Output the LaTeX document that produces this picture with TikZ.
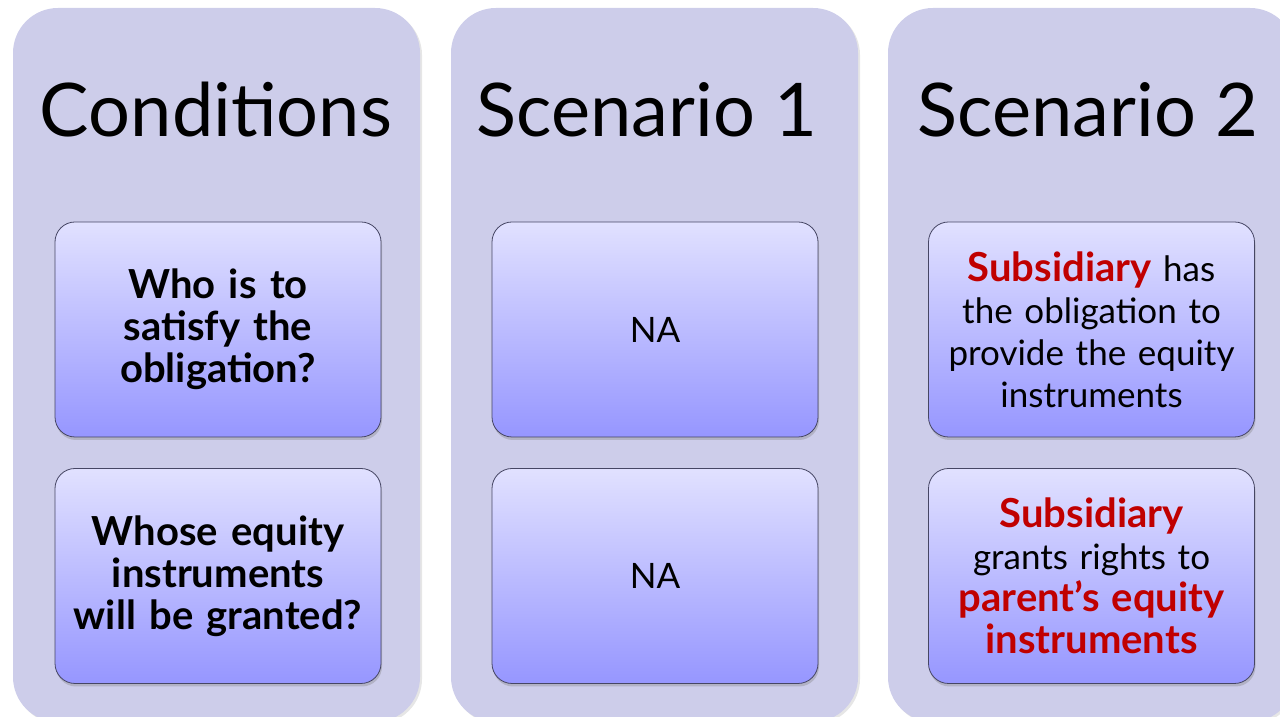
\documentclass[tikz,border=0pt]{standalone}
\usepackage{fontspec}
\setmainfont{Lato}
\usetikzlibrary{shadows}

\definecolor{panelfill}{RGB}{205,205,234}
\definecolor{boxtop}{RGB}{225,225,255}
\definecolor{boxbottom}{RGB}{150,150,255}
\definecolor{boxline}{RGB}{70,70,100}
\definecolor{keyred}{RGB}{192,0,0}
\newcommand{\bigbold}{\fontsize{40}{42}\selectfont\bfseries}
\newcommand{\hl}[1]{{\bigbold\textcolor{keyred}{#1}}}

\begin{document}
\begin{tikzpicture}[x=1pt, y=1pt,
		panel/.style={fill=panelfill, rounded corners=45pt, minimum width=407pt, minimum height=714pt, inner sep=0pt,
			drop shadow={opacity=0.2, shadow xshift=2pt, shadow yshift=-2pt}},
		heading/.style={anchor=base, font=\fontsize{74}{84}\selectfont},
		cell/.style={draw=boxline, line width=0.8pt, rounded corners=20pt, top color=boxtop, bottom color=boxbottom,
			minimum width=326pt, minimum height=215pt, text width=310pt, align=center, font=\fontsize{35}{42}\selectfont,
			drop shadow={opacity=0.35, shadow xshift=1pt, shadow yshift=-3pt}}]
		\clip (0,0) rectangle (1280,717);
		% Background panels
		\node[panel] (condpanel) at (216.5,352) {};
		\node[panel] (onepanel) at (654.5,352) {};
		\node[panel] (twopanel) at (1091.5,352) {};
		% Headings
		\node[heading] (condhead) at (216,580) {Conditions};
		\node[heading] (onehead) at (647,580) {Scenario 1};
		\node[heading] (twohead) at (1088,580) {Scenario 2};
		% Conditions
		\node[cell, font=\bigbold] (condwho) at (218,387.5) {Who is to\\ satisfy the\\ obligation?};
		\node[cell, font=\bigbold] (condwhose) at (218,141) {Whose equity\\ instruments\\ will be granted?};
		% Scenario 1
		\node[cell] (onewho) at (655,387.5) {NA};
		\node[cell] (onewhose) at (655,141) {NA};
		% Scenario 2
		\node[cell] (twowho) at (1091.5,387.5) {\hl{Subsidiary} has\\ the obligation to\\ provide the equity\\ instruments};
		\node[cell] (twowhose) at (1091.5,141) {\hl{Subsidiary}\\ grants rights to\\ \hl{parent’s equity}\\ \hl{instruments}};
	\end{tikzpicture}
\end{document}
